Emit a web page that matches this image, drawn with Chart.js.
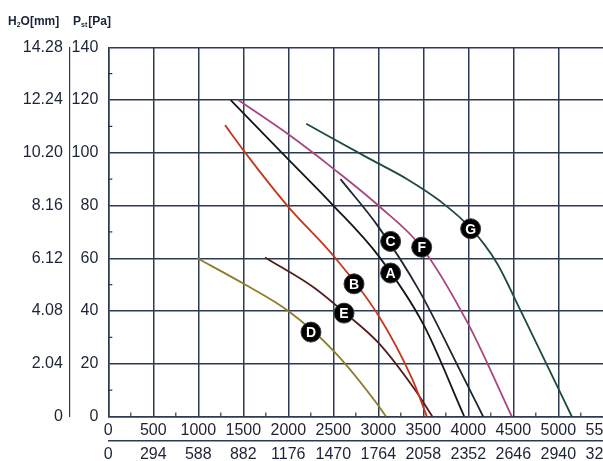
<!DOCTYPE html>
<html lang="en">
<head>
<meta charset="UTF-8">
<title>Fan performance curves</title>
<style>
  html, body { margin: 0; padding: 0; background: #fff; overflow: hidden; }
  #wrap { width: 603px; height: 461px; overflow: hidden; }
</style>
</head>
<body>
<div id="wrap"><canvas id="chart" width="640" height="461"></canvas></div>
<script src="https://cdn.jsdelivr.net/npm/chart.js"></script>
<script>
// axis ticks
var flowTicks = [0, 500, 1000, 1500, 2000, 2500, 3000, 3500, 4000, 4500, 5000, 5500];
var cfmLabels = ['0', '294', '588', '882', '1176', '1470', '1764', '2058', '2352', '2646', '2940', '3234'];
var paTicks = [0, 20, 40, 60, 80, 100, 120, 140];
var h2oLabels = ['0', '2.04', '4.08', '6.12', '8.16', '10.20', '12.24', '14.28'];
var flowMinor = [250, 750, 1250, 1750, 2250, 2750, 3250, 3750, 4250, 4750, 5250];
var paMinor = [10, 30, 50, 70, 90, 110, 130];

// curves (flow, static pressure Pa)
var aX = [1360, 2000, 2500, 3000, 3500, 3955];
var aY = [120, 97.5, 80, 61, 35, 0];
var bX = [1297, 1500, 2000, 2500, 3000, 3380, 3540];
var bY = [110.5, 101, 79.5, 61, 38.4, 14, 0];
var cX = [2580, 3000, 3450, 3930, 4165];
var cY = [90, 72, 48, 16, 0];
var dX = [990, 1500, 2000, 2500, 3000, 3085];
var dY = [60, 50.4, 40, 25, 4.2, 0];
var eX = [1741, 2280, 2622, 3000, 3400, 3600];
var eY = [60.3, 49, 39.5, 28, 10.5, 0];
var fX = [1444, 2000, 2500, 3000, 3485, 4000, 4483];
var fY = [120, 107, 94, 80, 64, 35, 0];
var gX = [2200, 2915, 3321, 3690, 4030, 4317, 4576, 4860, 5150];
var gY = [111, 97.5, 90, 81.6, 71.3, 58.2, 40.5, 20.5, 0];

// curve tags
var tagNames = ['A', 'B', 'C', 'D', 'E', 'F', 'G'];
var tagX = [3137, 2730, 3137, 2252, 2619, 3482, 4026];
var tagY = [54.4, 50.3, 66.4, 32, 39.2, 64.2, 71.2];

var gridColor = '#2d3b52';
var textColor = '#1b2436';

function pts(xs, ys) {
    return xs.map(function(x, i) { return { x: x, y: ys[i] }; });
}

function curve(xs, ys, color) {
    return {
        data: pts(xs, ys),
        showLine: true,
        borderColor: color,
        borderWidth: 1.8,
        pointRadius: 0,
        cubicInterpolationMode: 'monotone',
        fill: false
    };
}

var tagPlugin = {
    id: 'tags',
    afterDatasetsDraw: function(chart) {
        var ctx = chart.ctx;
        var meta = chart.getDatasetMeta(0);
        ctx.save();
        ctx.fillStyle = '#ffffff';
        ctx.font = 'bold 14px "Liberation Sans", Arial, sans-serif';
        ctx.textAlign = 'center';
        ctx.textBaseline = 'middle';
        meta.data.forEach(function(p, i) {
            ctx.fillText(tagNames[i], p.x, p.y + 1);
        });
        ctx.restore();
    }
};

var decoPlugin = {
    id: 'deco',
    beforeDatasetsDraw: function(chart) {
        var ctx = chart.ctx;
        var xs = chart.scales.x, ys = chart.scales.y;
        var area = chart.chartArea;
        ctx.save();
        ctx.strokeStyle = gridColor;
        ctx.lineWidth = 1.2;
        ctx.beginPath();
        flowMinor.forEach(function(v) {
            var px = xs.getPixelForValue(v);
            ctx.moveTo(px, area.bottom);
            ctx.lineTo(px, area.bottom - 4);
        });
        paMinor.forEach(function(v) {
            var py = ys.getPixelForValue(v);
            ctx.moveTo(area.left, py);
            ctx.lineTo(area.left + 4, py);
        });
        ctx.stroke();
        ctx.restore();
    },
    afterDraw: function(chart) {
        var ctx = chart.ctx;
        ctx.save();
        ctx.fillStyle = textColor;
        ctx.textBaseline = 'alphabetic';
        var big = 'bold 12px "Liberation Sans", Arial, sans-serif';
        var small = 'bold 7px "Liberation Sans", Arial, sans-serif';
        var x = 8;
        ctx.font = big; ctx.fillText('H', x, 25); x += ctx.measureText('H').width;
        ctx.font = small; ctx.fillText('2', x, 27); x += ctx.measureText('2').width;
        ctx.font = big; ctx.fillText('O[mm]', x, 25);
        x = 73;
        ctx.font = big; ctx.fillText('P', x, 25); x += ctx.measureText('P').width;
        ctx.font = small; ctx.fillText('st', x, 27); x += ctx.measureText('st').width + 1;
        ctx.font = big; ctx.fillText('[Pa]', x, 25);
        ctx.restore();
    }
};

Chart.defaults.font.family = '"Liberation Sans", Arial, sans-serif';
Chart.defaults.font.size = 16;
Chart.defaults.color = textColor;

new Chart(document.getElementById('chart'), {
    type: 'scatter',
    data: {
        datasets: [
            {
                data: pts(tagX, tagY),
                showLine: false,
                pointRadius: 10,
                pointHoverRadius: 10,
                pointBackgroundColor: '#000000',
                pointBorderColor: '#3a3a3a',
                pointBorderWidth: 1
            },
            curve(aX, aY, '#161616'),
            curve(bX, bY, '#c2391f'),
            curve(cX, cY, '#1d2833'),
            curve(dX, dY, '#8c7e2a'),
            curve(eX, eY, '#561c1c'),
            curve(fX, fY, '#a84680'),
            curve(gX, gY, '#1d4a42')
        ]
    },
    options: {
        responsive: false,
        animation: false,
        layout: { padding: { left: 22.3, top: 47.3, right: 36.7, bottom: 0 } },
        plugins: { legend: { display: false }, tooltip: { enabled: false } },
        scales: {
            x: {
                type: 'linear', position: 'bottom', weight: 0,
                min: 0, max: 5500,
                afterBuildTicks: function(s) { s.ticks = flowTicks.map(function(v) { return { value: v }; }); },
                afterFit: function(s) { s.height = 24; },
                grid: { color: gridColor, lineWidth: 1.5, drawTicks: false },
                border: { color: gridColor, width: 1.5 },
                ticks: {
                    padding: 4, autoSkip: false, maxRotation: 0,
                    callback: function(v, i) { return String(flowTicks[i]); }
                }
            },
            x2: {
                type: 'linear', position: 'bottom', weight: 1,
                min: 0, max: 5500,
                afterBuildTicks: function(s) { s.ticks = flowTicks.map(function(v) { return { value: v }; }); },
                afterFit: function(s) { s.height = 20.5; },
                grid: { display: false, drawTicks: false },
                border: { display: true, color: gridColor, width: 1.5 },
                ticks: {
                    padding: 4, autoSkip: false, maxRotation: 0,
                    callback: function(v, i) { return cfmLabels[i]; }
                }
            },
            y: {
                type: 'linear', position: 'left', weight: 0,
                min: 0, max: 140,
                afterBuildTicks: function(s) { s.ticks = paTicks.map(function(v) { return { value: v }; }); },
                afterFit: function(s) { s.width = 39; },
                grid: { color: gridColor, lineWidth: 1.5, drawTicks: false },
                border: { color: gridColor, width: 1.5 },
                ticks: { padding: 10 }
            },
            y2: {
                type: 'linear', position: 'left', weight: 1,
                min: 0, max: 140,
                afterBuildTicks: function(s) { s.ticks = paTicks.map(function(v) { return { value: v }; }); },
                afterFit: function(s) { s.width = 47; },
                grid: { display: false, drawTicks: false },
                border: { display: true, color: gridColor, width: 1.2 },
                ticks: {
                    padding: 6.5,
                    callback: function(v, i) { return h2oLabels[i]; }
                }
            }
        }
    },
    plugins: [decoPlugin, tagPlugin]
});
</script>
</body>
</html>
